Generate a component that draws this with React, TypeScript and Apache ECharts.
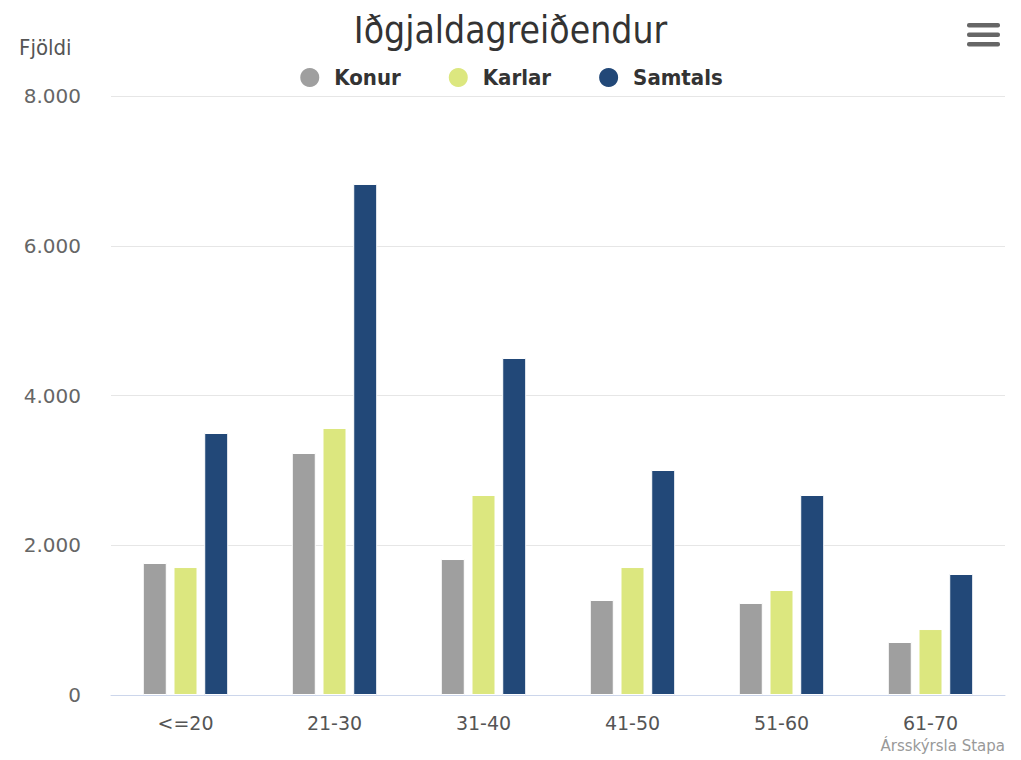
import React, { useEffect, useRef } from "react";
import * as echarts from "echarts";

const categories = ["<=20", "21-30", "31-40", "41-50", "51-60", "61-70"];
const konur = [1763, 3232, 1816, 1269, 1229, 708];
const karlar = [1709, 3566, 2671, 1709, 1402, 881];
const samtals = [3499, 6825, 4501, 3005, 2671, 1616];
const yTicks = { min: 0, max: 8000, interval: 2000 };

const COND = "'DejaVu Sans Condensed', 'Liberation Sans Narrow', sans-serif";
const SANS = "'DejaVu Sans', Verdana, sans-serif";

export default function App() {
  const ref = useRef<HTMLDivElement>(null);
  useEffect(() => {
    if (!ref.current) return;
    const chart = echarts.init(ref.current, undefined, { renderer: "svg" });
    const barBase = {
      type: "bar" as const,
      barWidth: 24,
      barGap: "28%",
      itemStyle: { borderColor: "#ffffff", borderWidth: 1 },
    };
    chart.setOption({
      animation: false,
      backgroundColor: "#ffffff",
      title: {
        text: "Iðgjaldagreiðendur",
        left: "center",
        top: 7,
        textStyle: { fontFamily: COND, fontSize: 37, fontWeight: "normal", color: "#333333" },
      },
      legend: {
        top: 61,
        left: "center",
        icon: "circle",
        itemWidth: 21,
        itemHeight: 21,
        itemGap: 46,
        textStyle: {
          fontFamily: COND,
          fontSize: 22,
          fontWeight: "bold",
          color: "#333333",
          padding: [0, 0, 0, 9],
        },
        data: ["Konur", "Karlar", "Samtals"],
      },
      grid: { left: 111, right: 16, top: 96, bottom: 65, containLabel: false },
      xAxis: {
        type: "category",
        data: categories,
        axisLine: { show: true, lineStyle: { color: "#ccd6eb", width: 1 } },
        axisTick: { show: false },
        axisLabel: { fontFamily: SANS, fontSize: 19, color: "#555555", margin: 18 },
      },
      yAxis: {
        type: "value",
        min: yTicks.min,
        max: yTicks.max,
        interval: yTicks.interval,
        axisLine: { show: false },
        axisTick: { show: false },
        splitLine: { lineStyle: { color: "#e6e6e6", width: 1 } },
        axisLabel: {
          fontFamily: SANS,
          fontSize: 20,
          color: "#666666",
          margin: 30,
          formatter: (v: number) => v.toLocaleString("de-DE"),
        },
      },
      series: [
        { ...barBase, name: "Konur", data: konur, itemStyle: { ...barBase.itemStyle, color: "#9f9f9f" } },
        { ...barBase, name: "Karlar", data: karlar, itemStyle: { ...barBase.itemStyle, color: "#dce77f" } },
        { ...barBase, name: "Samtals", data: samtals, itemStyle: { ...barBase.itemStyle, color: "#224878" } },
      ],
      graphic: [
        {
          type: "text",
          left: 19,
          top: 36,
          style: { text: "Fjöldi", fontFamily: COND, fontSize: 22, fill: "#555555" },
        },
        {
          type: "text",
          right: 16,
          top: 738,
          style: { text: "Ársskýrsla Stapa", fontFamily: SANS, fontSize: 15, fill: "#999999" },
        },
        { type: "rect", shape: { x: 967, y: 23, width: 33, height: 4.5, r: 2 }, style: { fill: "#666666" } },
        { type: "rect", shape: { x: 967, y: 32.5, width: 33, height: 4.5, r: 2 }, style: { fill: "#666666" } },
        { type: "rect", shape: { x: 967, y: 42, width: 33, height: 4.5, r: 2 }, style: { fill: "#666666" } },
      ],
    });
    return () => chart.dispose();
  }, []);
  return (
    <div
      ref={ref}
      style={{ position: "absolute", left: 0, top: 0, width: 1021, height: 760, background: "#fff" }}
    />
  );
}
